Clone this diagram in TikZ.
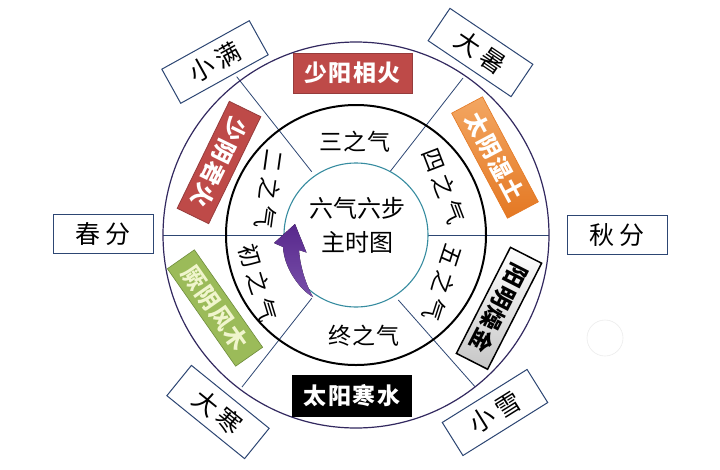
\documentclass[tikz,border=0pt]{standalone}
\usepackage{fontspec}
\setmainfont{Noto Sans CJK SC}
\usetikzlibrary{shadings}
\definecolor{navy}{RGB}{45,70,115}
\definecolor{outerc}{RGB}{50,40,95}
\definecolor{tealc}{RGB}{55,140,160}
\definecolor{redq}{RGB}{190,74,72}
\definecolor{redqb}{RGB}{150,60,60}
\definecolor{orq}{RGB}{240,144,58}
\definecolor{orqd}{RGB}{228,120,35}
\definecolor{grq}{RGB}{155,187,89}
\definecolor{grqb}{RGB}{110,140,60}
\definecolor{grqt}{RGB}{240,245,205}
\definecolor{purp}{RGB}{88,40,140}
\definecolor{purpl}{RGB}{120,80,170}
\newcommand{\gp}{\hspace{5pt}}
\newcommand{\sgp}{\hspace{1.5pt}}
\begin{document}
\begin{tikzpicture}[x=1pt,y=-1pt,
  seglabel/.style={draw=navy, fill=white, line width=1pt, minimum width=100pt, minimum height=39pt, inner sep=0pt, font=\fontsize{25}{25}\selectfont},
  qbox/.style={minimum width=119pt, minimum height=35pt, inner sep=0pt, font=\fontsize{23}{23}\selectfont\bfseries, text=white},
  ringtxt/.style={inner sep=0pt, font=\fontsize{23}{23}\selectfont},
  radline/.style={draw=navy, line width=0.8pt}]
\fill[white] (0,0) rectangle (720,469);
\useasboundingbox (0,0) rectangle (720,469);
\coordinate (C) at (356,235);
% radial lines
\coordinate (l1a) at (163,235); \coordinate (l1b) at (284,235);
\coordinate (l2a) at (428,235); \coordinate (l2b) at (549,235);
\coordinate (l3a) at (236.7,76.7); \coordinate (l3b) at (311.7,171.7);
\coordinate (l4a) at (463,78); \coordinate (l4b) at (390,171.7);
\coordinate (l5a) at (242,387); \coordinate (l5b) at (311.7,298.3);
\coordinate (l6a) at (475,386.7); \coordinate (l6b) at (398.3,300);
\foreach \i in {1,...,6} {\draw[radline] (l\i a) -- (l\i b);}
% circles
\draw[outerc, line width=1.2pt] (C) circle[radius=193pt];
\draw[black, line width=2pt] (C) circle[radius=130pt];
\draw[tealc, line width=1.1pt] (C) circle[radius=72pt];
% faint circle
\draw[gray!15, line width=0.6pt] (605,338) circle[radius=18pt];
% boundary labels
\node[seglabel, rotate=29] (xm) at (215,62) {小\gp 满};
\node[seglabel, rotate=-34] (ds) at (480.5,52.5) {大\gp 暑};
\node[seglabel] (cf) at (103,234) {春\gp 分};
\node[seglabel] (qf) at (617,235) {秋\gp 分};
\node[seglabel, rotate=-39] (dh) at (218,412) {大\gp 寒};
\node[seglabel, rotate=32] (xx) at (495,412.5) {小\gp 雪};
% qi boxes
\node[qbox, fill=redq, draw=redqb, line width=0.8pt, minimum height=40pt] (sy) at (352.5,73) {少\sgp 阳\sgp 相\sgp 火};
\node[qbox, fill=black, minimum height=42pt, minimum width=120pt] (ty) at (352,396) {太\sgp 阳\sgp 寒\sgp 水};
\node[qbox, fill=redq, draw=redqb, line width=0.8pt, rotate=-116] (sq) at (219,162.5) {少\sgp 阴\sgp 君\sgp 火};
\node[qbox, top color=orq!80!white, bottom color=orqd, draw=orqd, line width=0.6pt, rotate=-62, text=white] (tys) at (495,157.5) {太\sgp 阴\sgp 湿\sgp 土};
\node[qbox, top color=white, bottom color=gray!45, draw=black, line width=1.5pt, rotate=-117, text=black] (ym) at (499,308.3) {阳\sgp 明\sgp 燥\sgp 金};
\node[qbox, fill=grq, draw=grqb, line width=0.6pt, rotate=-55, text=grqt, minimum height=33pt] (jy) at (215,308) {厥\sgp 阴\sgp 风\sgp 木};
% ring texts
\node[ringtxt] (q3) at (355,142) {三\sgp 之\sgp 气};
\node[ringtxt] (q6) at (364,336) {终\sgp 之\sgp 气};
\node[ringtxt, rotate=-98] (q2) at (270,189) {二\gp 之\gp 气};
\node[ringtxt, rotate=-69] (q4) at (444,186) {四\gp 之\gp 气};
\node[ringtxt, rotate=-108] (q5) at (443,283) {五\gp 之\gp 气};
\node[ringtxt, rotate=-73] (q1) at (258.5,283) {初\gp 之\gp 气};
% centre
\node[ringtxt, align=center, font=\fontsize{24}{34}\selectfont] (ct) at (357,225) {六气六步\\主时图};
% arrow
\fill[top color=purp, bottom color=purpl] (295,224) -- (306.5,252.5) -- (299,250)
  .. controls (300,265) and (305,283) .. (313,297)
  .. controls (300,290) and (284,268) .. (283,247)
  -- (274,243) -- cycle;
\end{tikzpicture}
\end{document}
